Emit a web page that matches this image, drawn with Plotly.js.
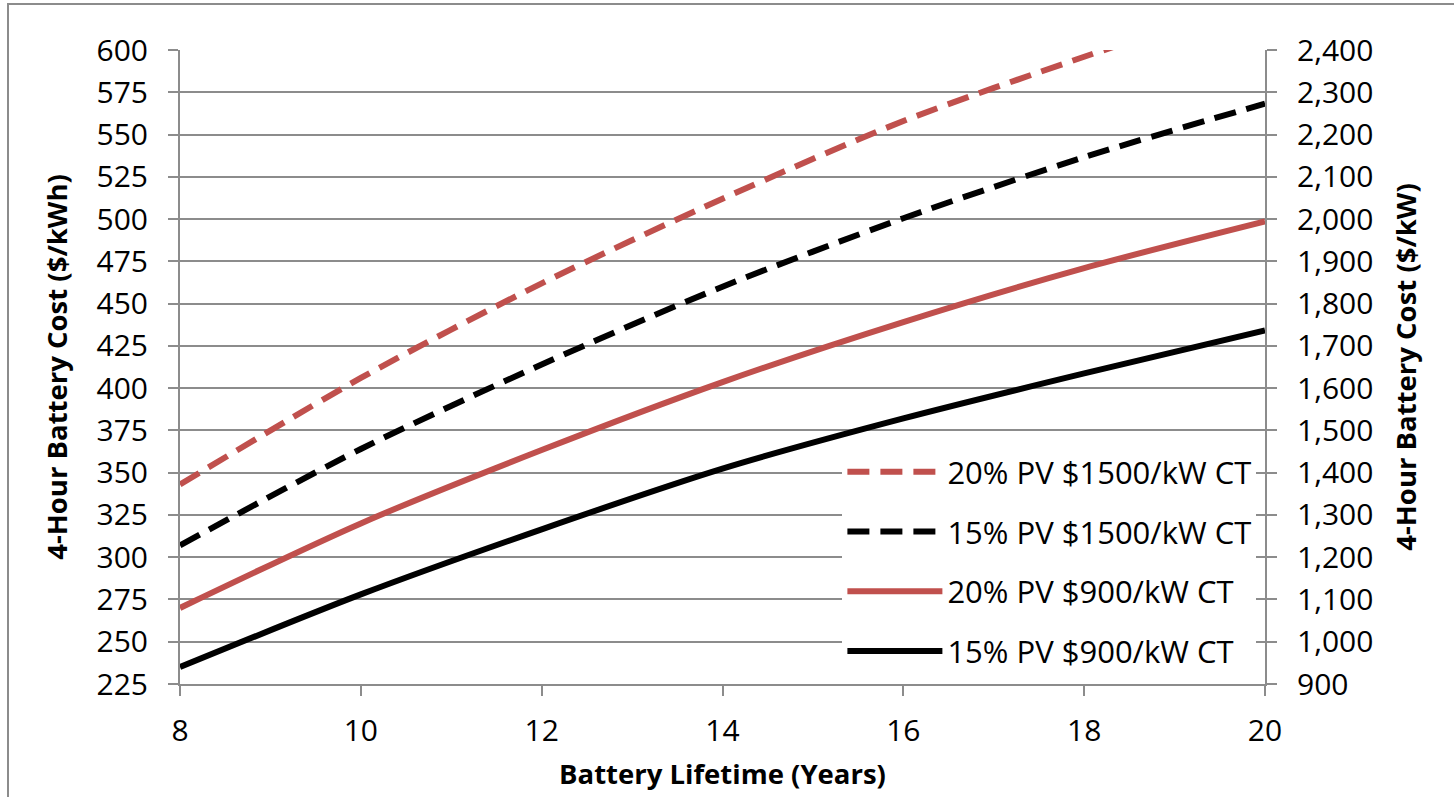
<!DOCTYPE html>
<html>
<head>
<meta charset="utf-8">
<script src="https://cdn.plot.ly/plotly-3.0.1.min.js"></script>
<style>
  html, body { margin: 0; padding: 0; background: #fff; overflow: hidden; }
  #frame { position: absolute; left: 7px; top: 3px; width: 1500px; height: 900px;
           border-left: 2px solid #8c8c8c; border-top: 2px solid #8c8c8c; }
  #chart { position: absolute; left: 0; top: 0; width: 1454px; height: 797px; }
</style>
</head>
<body>
<div id="frame"></div>
<div id="chart"></div>
<script>
const lifetimeYears = [8, 10, 12, 14, 16, 18, 20];
const pv20ct1500 = [343, 406, 462, 512, 558, 596, 631];
const pv15ct1500 = [307, 364, 414, 460, 500.5, 536.6, 568.3];
const pv20ct900  = [270, 320, 363.4, 403.6, 439.1, 471, 498.6];
const pv15ct900  = [235, 278, 316.5, 352.4, 382.1, 408.7, 434.1];
const seriesNames = ['20% PV $1500/kW CT', '15% PV $1500/kW CT', '20% PV $900/kW CT', '15% PV $900/kW CT'];

const RED = '#c0504d', BLACK = '#000000', GRID = '#8c8c8c';
const FONT = 'Open Sans, Liberation Sans, sans-serif';

function tr(y, name, color, dash, grp) {
  return { x: lifetimeYears, y: y, name: name, type: 'scatter', mode: 'lines',
           legendgroup: grp, line: { color: color, width: 6, dash: dash, shape: 'spline', smoothing: 0.8 } };
}
const data = [
  tr(pv20ct1500, seriesNames[0], RED, '22px,11px', 'a'),
  tr(pv15ct1500, seriesNames[1], BLACK, '22px,11px', 'b'),
  tr(pv20ct900, seriesNames[2], RED, 'solid', 'c'),
  tr(pv15ct900, seriesNames[3], BLACK, 'solid', 'd'),
  { x: lifetimeYears, y: pv15ct900.map(v => v * 4), yaxis: 'y2', type: 'scatter', mode: 'lines',
    showlegend: false, hoverinfo: 'skip', line: { width: 0, color: 'rgba(0,0,0,0)' } }
];

const layout = {
  width: 1454, height: 797,
  margin: { l: 180, r: 189, t: 50, b: 113 },
  paper_bgcolor: 'rgba(0,0,0,0)', plot_bgcolor: '#fff',
  font: { family: FONT, size: 30, color: '#000' },
  showlegend: true,
  legend: {
    x: 0.6105, y: 0.377, xanchor: 'left', yanchor: 'top',
    bgcolor: '#fff', borderwidth: 0,
    font: { family: FONT, size: 31, color: '#000' },
    itemwidth: 95, tracegroupgap: 16.5, traceorder: 'grouped'
  },
  xaxis: {
    range: [8, 20], dtick: 2, tick0: 8, showgrid: false, zeroline: false,
    showline: true, linecolor: GRID, linewidth: 2,
    ticks: 'outside', ticklen: 10, tickwidth: 2, tickcolor: GRID,
    tickfont: { family: FONT, size: 30 }, ticklabelstandoff: 9,
    title: { text: '<b>Battery Lifetime (Years)</b>', font: { family: FONT, size: 27.5 }, standoff: 16 }
  },
  yaxis: {
    range: [225, 600], dtick: 25, tick0: 225, showgrid: true, gridcolor: GRID, gridwidth: 2,
    zeroline: false, showline: true, linecolor: GRID, linewidth: 2,
    ticks: 'outside', ticklen: 10, tickwidth: 2, tickcolor: GRID,
    tickfont: { family: FONT, size: 30 }, ticklabelstandoff: 14,
    title: { text: '<b>4-Hour Battery Cost ($/kWh)</b>', font: { family: FONT, size: 27.5 }, standoff: 21 }
  },
  yaxis2: {
    overlaying: 'y', side: 'right', range: [900, 2400], dtick: 100, tick0: 900,
    tickformat: ',d', showgrid: false, zeroline: false,
    showline: true, linecolor: GRID, linewidth: 2,
    ticks: 'outside', ticklen: 10, tickwidth: 2, tickcolor: GRID,
    tickfont: { family: FONT, size: 30 }, ticklabelstandoff: 14,
    title: { text: '<b>4-Hour Battery Cost ($/kW)</b>', font: { family: FONT, size: 27.5 }, standoff: 24 }
  }
};

Plotly.newPlot('chart', data, layout, { displayModeBar: false, staticPlot: true });
</script>
</body>
</html>
